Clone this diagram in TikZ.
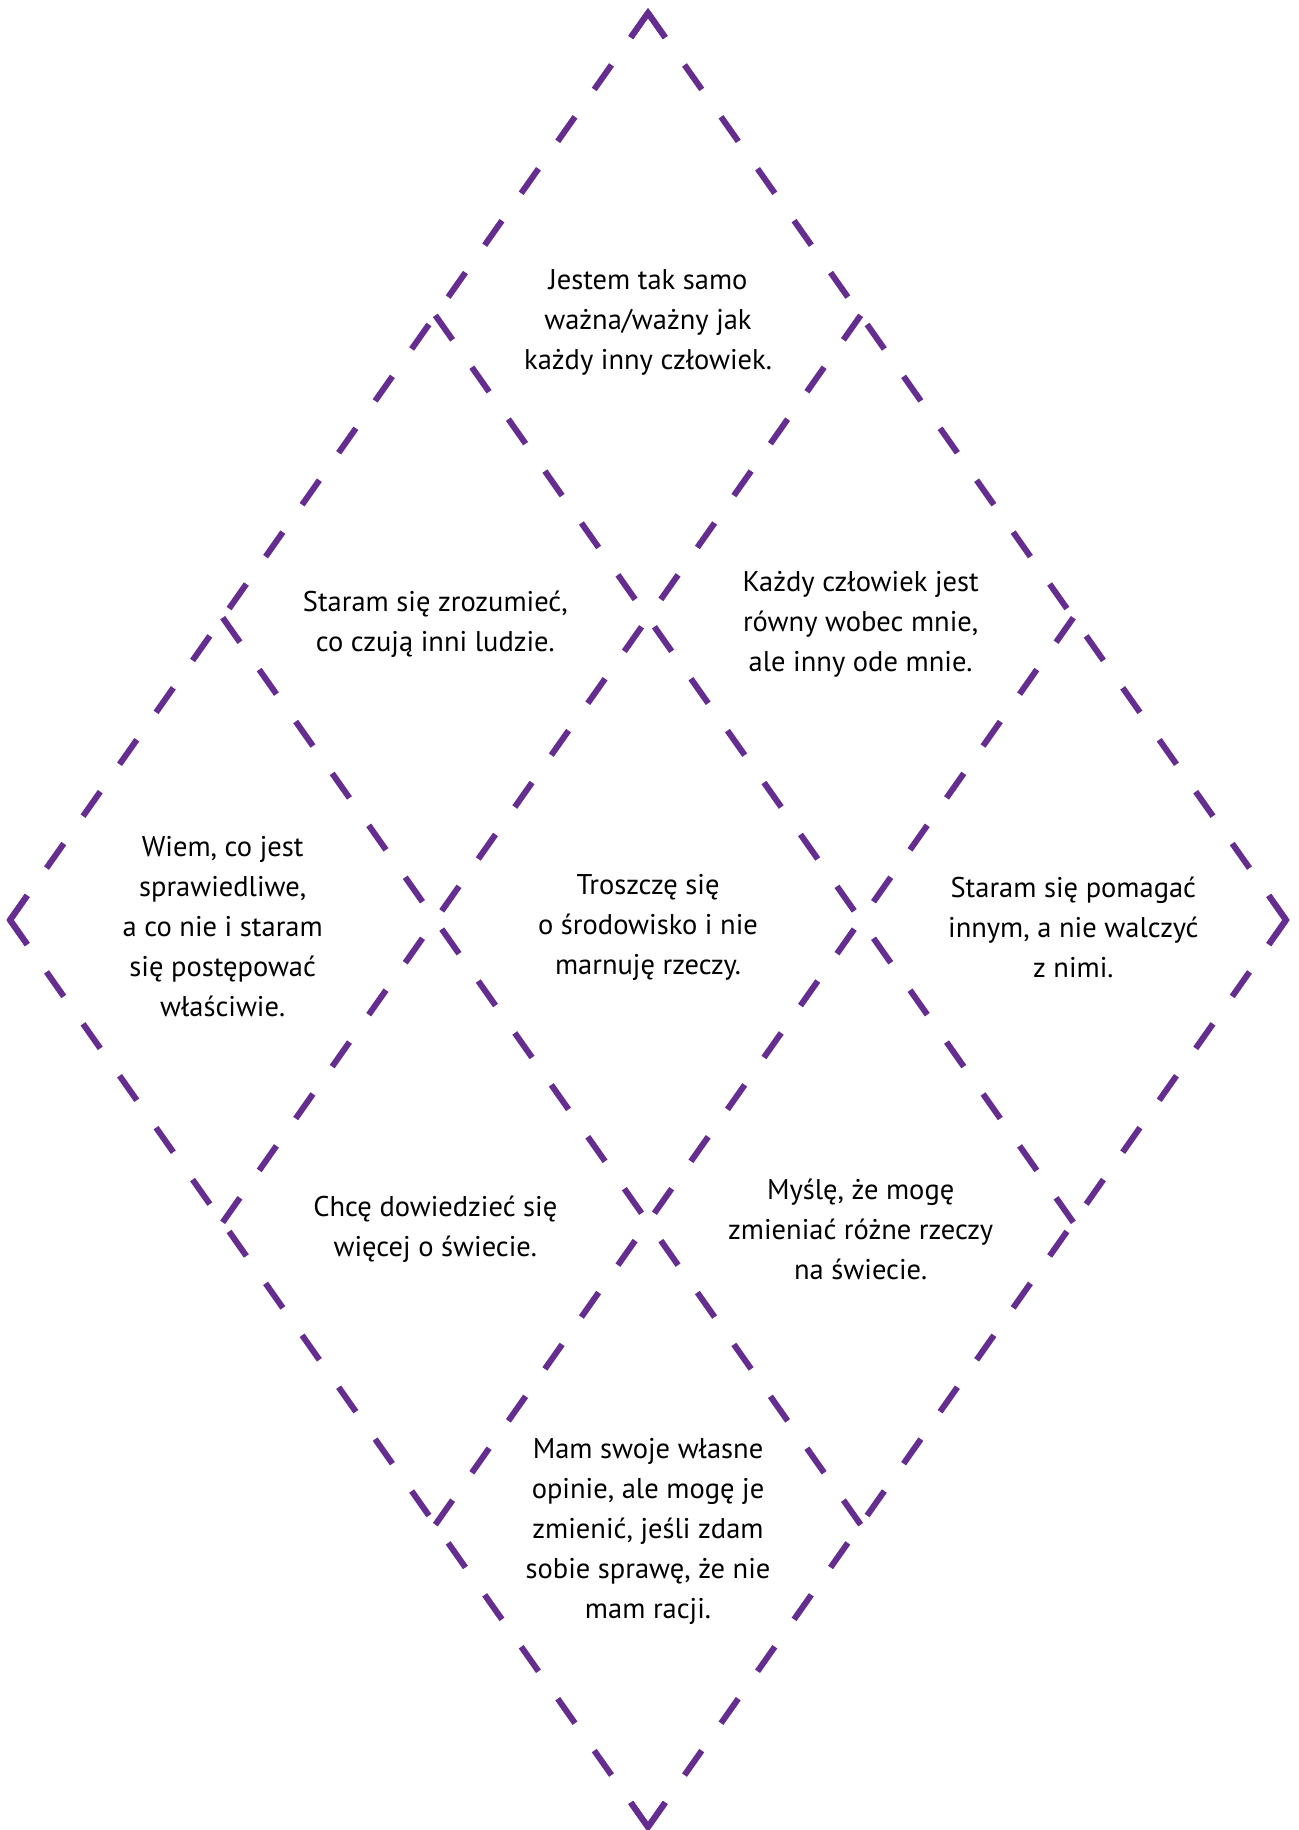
\documentclass[tikz,border=0pt]{standalone}
\usepackage{fontspec}
\setmainfont{PT Sans}
\usetikzlibrary{calc}
\definecolor{dpurple}{RGB}{102,45,145}
\tikzset{
  gridline/.style={draw=dpurple, line width=6pt, dash pattern=on 30pt off 33.466pt, line cap=butt},
  cornerline/.style={draw=dpurple, line width=6pt, line join=miter, line cap=butt},
  celltext/.style={align=center, inner sep=0pt, font=\fontsize{28.5}{40}\selectfont, text=black, yshift=-7pt}
}
\begin{document}
\begin{tikzpicture}[x=1pt,y=-1pt]
\useasboundingbox (0,0) rectangle (1298,1830);
\foreach \i in {0,...,3}{
  \foreach \j in {0,...,3}{
    \coordinate (P\i\j) at ({648+(\j-\i)*212.667},{13+(\i+\j)*302.333});
  }
}
\foreach \i in {0,...,3}{ \draw[gridline] (P\i0) -- (P\i3); }
\foreach \j in {0,...,3}{ \draw[gridline] (P0\j) -- (P3\j); }
% corners of the outer diamond
\draw[cornerline] ($(P00)!30pt!(P10)$) -- (P00) -- ($(P00)!30pt!(P01)$);
\draw[cornerline] ($(P30)!30pt!(P20)$) -- (P30) -- ($(P30)!30pt!(P31)$);
\draw[cornerline] ($(P03)!30pt!(P02)$) -- (P03) -- ($(P03)!30pt!(P13)$);
\draw[cornerline] ($(P33)!30pt!(P23)$) -- (P33) -- ($(P33)!30pt!(P32)$);
% cell texts
\foreach \i/\j/\name in {0/0/c00,1/0/c10,0/1/c01,2/0/c20,1/1/c11,0/2/c02,2/1/c21,1/2/c12,2/2/c22}{
  \coordinate (\name) at ({648+(\j-\i)*212.667},{13+(\i+\j+1)*302.333});
}
\node[celltext] (t00) at (c00) {Jestem tak samo\\ważna/ważny jak\\każdy inny człowiek.};
\node[celltext] (t10) at (c10) {Staram się zrozumieć,\\co czują inni ludzie.};
\node[celltext] (t01) at (c01) {Każdy człowiek jest\\równy wobec mnie,\\ale inny ode mnie.};
\node[celltext] (t20) at (c20) {Wiem, co jest\\sprawiedliwe,\\a co nie i staram\\się postępować\\właściwie.};
\node[celltext] (t11) at (c11) {Troszczę się\\o środowisko i nie\\marnuję rzeczy.};
\node[celltext] (t02) at (c02) {Staram się pomagać\\innym, a nie walczyć\\z nimi.};
\node[celltext] (t21) at (c21) {Chcę dowiedzieć się\\więcej o świecie.};
\node[celltext] (t12) at (c12) {Myślę, że mogę\\zmieniać różne rzeczy\\na świecie.};
\node[celltext] (t22) at (c22) {Mam swoje własne\\opinie, ale mogę je\\zmienić, jeśli zdam\\sobie sprawę, że nie\\mam racji.};
\end{tikzpicture}
\end{document}
